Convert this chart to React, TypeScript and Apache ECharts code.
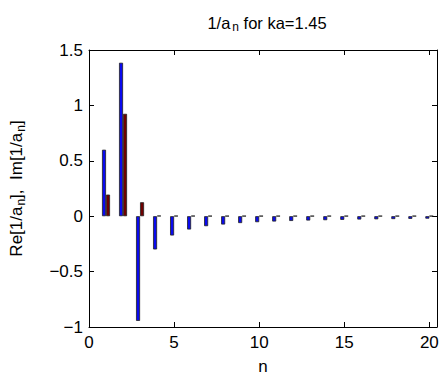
import React, { useEffect, useRef } from 'react';
import * as echarts from 'echarts';

const nValues = [1, 2, 3, 4, 5, 6, 7, 8, 9, 10, 11, 12, 13, 14, 15, 16, 17, 18, 19, 20];
const reValues = [0.6, 1.385, -0.945, -0.3, -0.174, -0.12, -0.09, -0.075, -0.062, -0.054, -0.048, -0.043, -0.039, -0.036, -0.033, -0.03, -0.028, -0.026, -0.024, -0.022];
const imValues = [0.195, 0.924, 0.126, 0.004, 0.003, 0.003, 0.002, 0.002, 0.002, 0.002, 0.002, 0.002, 0.002, 0.002, 0.002, 0.002, 0.002, 0.002, 0.002, 0.002];
const xTicks = [0, 5, 10, 15, 20];
const yTicks = [-1, -0.5, 0, 0.5, 1, 1.5];

const FONT = 'Liberation Sans, Arial, Helvetica, sans-serif';

export default function App() {
  const ref = useRef<HTMLDivElement>(null);
  useEffect(() => {
    if (!ref.current) return;
    const chart = echarts.init(ref.current, undefined, { renderer: 'svg' });
    const fmtNum = (v: number) => String(v).replace('-', '\u2212');
    const xFmt = (v: number) => (xTicks.some((t) => Math.abs(t - v) < 1e-6) ? fmtNum(v) : '');
    const yFmt = (v: number) => (yTicks.some((t) => Math.abs(t - v) < 1e-6) ? fmtNum(v) : '');
    const tick = { show: true, inside: true, length: 5, lineStyle: { color: '#000', width: 1 } };
    const line = { show: true, onZero: false, lineStyle: { color: '#000', width: 1 } };
    chart.setOption({
      animation: false,
      backgroundColor: '#fff',
      textStyle: { fontFamily: FONT },
      title: {
        text: '1/a{sub|n} for ka=1.45',
        left: 262,
        textAlign: 'center',
        top: 7,
        textStyle: {
          fontFamily: FONT,
          fontSize: 16.5,
          fontWeight: 'normal',
          color: '#000',
          rich: {
            sub: { fontFamily: FONT, fontSize: 12, verticalAlign: 'bottom', padding: [9, 0, 0, 2], color: '#000' },
          },
        },
      },
      grid: { left: 87, right: 10, top: 50, bottom: 55, containLabel: false },
      xAxis: [
        {
          type: 'value',
          min: 0,
          max: 20.45,
          interval: 5,
          position: 'bottom',
          name: 'n',
          nameLocation: 'middle',
          nameGap: 31,
          nameTextStyle: { fontFamily: FONT, fontSize: 17, color: '#000' },
          axisLine: line,
          axisTick: tick,
          axisLabel: { formatter: xFmt, fontFamily: FONT, fontSize: 17, color: '#000', margin: 7, showMaxLabel: false },
          splitLine: { show: false },
        },
        {
          type: 'value',
          min: 0,
          max: 20.45,
          interval: 5,
          position: 'top',
          axisLine: line,
          axisTick: tick,
          axisLabel: { show: false },
          splitLine: { show: false },
        },
      ],
      yAxis: [
        {
          type: 'value',
          min: -1,
          max: 1.5,
          interval: 0.5,
          position: 'left',
          name: 'Re[1/a{sub|n}],  Im[1/a{sub|n}]',
          nameLocation: 'middle',
          nameGap: 62,
          nameRotate: 90,
          nameTextStyle: {
            fontFamily: FONT,
            fontSize: 17,
            color: '#000',
            rich: {
              sub: { fontFamily: FONT, fontSize: 12, verticalAlign: 'bottom', padding: [9, 0, 0, 1], color: '#000' },
            },
          },
          axisLine: line,
          axisTick: tick,
          axisLabel: { formatter: yFmt, fontFamily: FONT, fontSize: 17, color: '#000', margin: 6 },
          splitLine: { show: false },
        },
        {
          type: 'value',
          min: -1,
          max: 1.5,
          interval: 0.5,
          position: 'right',
          axisLine: line,
          axisTick: tick,
          axisLabel: { show: false },
          splitLine: { show: false },
        },
      ],
      series: [
        {
          type: 'bar',
          name: 'Re',
          xAxisIndex: 0,
          yAxisIndex: 0,
          data: nValues.map((n, i) => [n, reValues[i]]),
          barWidth: 4,
          barGap: '0%',
          itemStyle: { color: '#0a0aee', borderColor: '#222', borderWidth: 0.8 },
        },
        {
          type: 'bar',
          name: 'Im',
          xAxisIndex: 0,
          yAxisIndex: 0,
          data: nValues.map((n, i) => [n, imValues[i]]),
          barWidth: 4,
          barGap: '0%',
          itemStyle: { color: '#6e0000', borderColor: '#222', borderWidth: 0.8 },
        },
      ],
    });
    return () => chart.dispose();
  }, []);
  return <div ref={ref} style={{ position: 'fixed', left: 0, top: 0, width: 447, height: 382 }} />;
}
